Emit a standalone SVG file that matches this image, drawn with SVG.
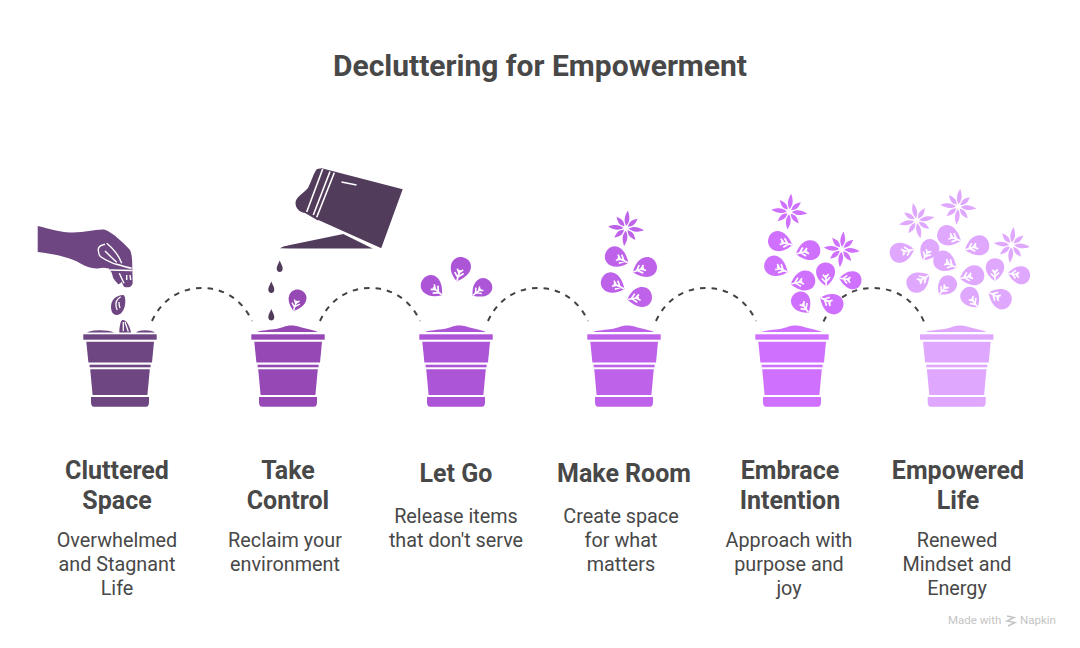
<svg xmlns="http://www.w3.org/2000/svg" width="1080" height="648" viewBox="0 0 1080 648">
<style>
text{font-family:Roboto,"Liberation Sans",sans-serif;text-anchor:middle;fill:#484848}
.title{font-size:30px;font-weight:700}
.h{font-size:25px;font-weight:700}
.d{font-size:19.800px;font-weight:400}
.foot{font-size:11.500px;fill:#c4c4c4;text-anchor:start}
.conn{fill:none;stroke:#434343;stroke-width:2;stroke-dasharray:5.500 6}
.vein{fill:none;stroke:#fff;stroke-width:1.700;stroke-linecap:butt}
.c1{fill:#6e4681}.c2{fill:#9649b5}.c3{fill:#ac55d6}.c4{fill:#be62ea}.c5{fill:#cf70ff}.c6{fill:#e0a7ff}
</style>
<defs>
<g id="pot">
<rect x="-36.700" y="334.300" width="73.400" height="5.400"/>
<path d="M-33.700 341.700H34L32 362.500H-31.600Z"/>
<rect x="-30.400" y="364.700" width="61" height="2.600"/>
<path d="M-29.800 369.300H29.800L27.400 395H-27.400Z"/>
<path d="M-29 397H29V402Q29 406.700 26 406.700H-26Q-29 406.700-29 402Z"/>
</g>
<path id="soil" d="M-31 332C-26 330-18 330-12 329C-6 328-3 325.500 3 325.500C10 325.500 14 328 20 329C24 330 28 331 30 332Z"/>
<g id="leaf">
<path d="M0 13C-5 9.500-10 4.500-10-2C-10-8-5.500-12 0-12C6-12 10-8 10-2.500C10 4 4.500 9.500 0 13Z"/>
<path class="vein" d="M0 12.500V1M0 9L-4.500 4.500M0 8L4.500 3.500M0 4.500L-3 .5M0 4L3 0"/>
</g>
<g id="flower">
<path d="M0-2.500C-3-7-3.200-11 0-18C3.200-11 3-7 0-2.500Z"/>
<path d="M0-2.500C-3-7-3-9 0-15C3-9 3-7 0-2.500Z" transform="rotate(45)"/>
<path d="M0-2.500C-3-7-3.200-11 0-18C3.200-11 3-7 0-2.500Z" transform="rotate(90)"/>
<path d="M0-2.500C-3-7-3-9 0-15C3-9 3-7 0-2.500Z" transform="rotate(135)"/>
<path d="M0-2.500C-3-7-3.200-11 0-18C3.200-11 3-7 0-2.500Z" transform="rotate(180)"/>
<path d="M0-2.500C-3-7-3-9 0-15C3-9 3-7 0-2.500Z" transform="rotate(225)"/>
<path d="M0-2.500C-3-7-3.200-11 0-18C3.200-11 3-7 0-2.500Z" transform="rotate(270)"/>
<path d="M0-2.500C-3-7-3-9 0-15C3-9 3-7 0-2.500Z" transform="rotate(315)"/>
</g>
<path id="drop" d="M0-6C1.500-2 3-.5 3 2.200C3 4.200 1.500 5.500 0 5.500C-1.500 5.500-3 4.200-3 2.200C-3-.5-1.500-2 0-6Z"/>
</defs>

<text class="title" x="540" y="75.500">Decluttering for Empowerment</text>

<g id="connectors">
<path class="conn" d="M152 321C162 299 181 288 202 288C223 288 242 299 252 321"/>
<path class="conn" d="M320 321C330 299 349 288 370 288C391 288 410 299 420 321"/>
<path class="conn" d="M488 321C498 299 517 288 538 288C559 288 578 299 588 321"/>
<path class="conn" d="M656 321C666 299 685 288 706 288C727 288 746 299 756 321"/>
<path class="conn" d="M823.500 321.500L826.500 315.500"/>
<path class="conn" d="M842 297.500C850 291.500 861 288 873 288C895 288 914 299 924 321.700"/>
</g>

<g id="node-cluttered-space">
<use href="#pot" x="120" class="c1"/>
<path class="c1" d="M87 332.500C92 329.500 108 329.500 114 332.500ZM136 332.500C139 329.500 151 329.500 155 332.500Z"/>
<path class="c1" d="M119.300 332.500C119.300 327 120.500 320 122.700 320C127 320 130 327 131 332.500Z"/>
<path d="M123.300 322V331M125 322L128.300 331.500" fill="none" stroke="#fff" stroke-width="1.300"/>
<path class="c1" d="M111 306.700C111 300 116 295 123.300 295C125.500 296 125.500 301 125 305C124 311 120.500 315 116.700 315C112.500 315 111 311 111 306.700Z"/>
<path d="M120.700 296.700C117 299 115.500 303 116 306C116.300 308 116.700 309 117.300 310M119 302C119 304 119.500 307 120 308" fill="none" stroke="#fff" stroke-width="1.300"/>
<path class="c1" d="M37.700 226C50 229 60 232 70 232.500C85 233 95 229 105 229.700C112 232 124 243 130 250C132.300 255 132.300 262 132.300 268.300L132.700 283.300C132 286 130 287.500 128.300 287.300C126 287.300 124.500 287 124 286.700C123 285 122 283 121.700 281.700C120.500 283 119.500 284.300 118.300 284.300C116 282 114.500 280 113.300 278.300L111.700 272.700L109 268.500L103.300 267.700C99 268.500 96 268.500 93.300 268.300C87 267 83 265 80 263.300C72 258 55 254 37.700 252Z"/>
<path d="M105 244.300C100 245.500 98 248 98.300 250C98.500 253 99 255.500 100.700 256.700C105 260 109 261.500 113.300 263.300C119 265 125 267 131.700 268.300M106.700 243.300C110 246 113 249 115 251.700C118 255 120 259 121.700 263.300M105 251C109 255 113 259 116.700 262.300M110 270L132 270.500M119.300 273.300L124 283.300M126.700 275V280M130 275L130.700 280" fill="none" stroke="#fff" stroke-width="1.400"/>
<text class="h" x="117" y="479">Cluttered</text>
<text class="h" x="117" y="509">Space</text>
<text class="d" x="117" y="547">Overwhelmed</text>
<text class="d" x="117" y="571">and Stagnant</text>
<text class="d" x="117" y="595">Life</text>
</g>

<g id="node-take-control">
<use href="#pot" x="288" class="c2"/>
<use href="#soil" x="288" class="c2"/>
<path fill="#523c5b" d="M321.700 168.300L402.700 189.300L381 248.700L318.300 220.700L305 213C299 212 295.500 208 295.500 203C295.500 197 303 194 308 188C311 182 314 172 317 169Z"/>
<path fill="#523c5b" d="M280 248.300C282 246.500 286 246 290 245L343.300 234L370 247.300L373 248.500L290 248.500Z"/>
<path d="M322.700 169L306.700 212M330 171.500L313.300 215M334.300 172.700L316.700 217.300M341.500 182L356.500 185M318 220.700L381 249" fill="none" stroke="#fff" stroke-width="1.600"/>
<use href="#drop" x="279.700" y="266.500" fill="#523c5b"/>
<use href="#drop" x="271.300" y="287.500" fill="#523c5b"/>
<use href="#drop" x="271.300" y="315" fill="#523c5b"/>
<use href="#leaf" transform="translate(297 300) rotate(18) scale(.88)" class="c2"/>
<text class="h" x="288" y="479">Take</text>
<text class="h" x="288" y="509">Control</text>
<text class="d" x="285" y="547">Reclaim your</text>
<text class="d" x="285" y="571">environment</text>
</g>

<g id="node-let-go">
<use href="#pot" x="456" class="c3"/>
<use href="#soil" x="456" class="c3"/>
<use href="#leaf" transform="translate(432.300 286.700) rotate(-48.500)" class="c3"/>
<use href="#leaf" transform="translate(460.300 269) rotate(16)" class="c3"/>
<use href="#leaf" transform="translate(481.700 288.300) rotate(51) scale(.9)" class="c3"/>
<text class="h" x="456" y="482">Let Go</text>
<text class="d" x="456" y="523">Release items</text>
<text class="d" x="456" y="547">that don't serve</text>
</g>

<g id="node-make-room">
<use href="#pot" x="624" class="c4"/>
<use href="#soil" x="624" class="c4"/>
<use href="#flower" transform="translate(626 228.300) rotate(6)" class="c4"/>
<use href="#leaf" transform="translate(616.700 257.300) rotate(-64.500)" class="c4"/>
<use href="#leaf" transform="translate(645 267.700) rotate(69.500)" class="c4"/>
<use href="#leaf" transform="translate(612.700 283.300) rotate(-64.500)" class="c4"/>
<use href="#leaf" transform="translate(640 297.300) rotate(80)" class="c4"/>
<text class="h" x="624" y="482">Make Room</text>
<text class="d" x="621" y="523">Create space</text>
<text class="d" x="621" y="547">for what</text>
<text class="d" x="621" y="571">matters</text>
</g>

<g id="node-embrace-intention">
<use href="#pot" x="792" class="c5"/>
<use href="#soil" x="792" class="c5"/>
<use href="#flower" transform="translate(789.300 211.700) rotate(6)" class="c5"/>
<use href="#flower" transform="translate(841.700 249.300) rotate(6)" class="c5"/>
<use href="#leaf" transform="translate(780 241.700) rotate(-75)" class="c5"/>
<use href="#leaf" transform="translate(808.300 250.700) rotate(75)" class="c5"/>
<use href="#leaf" transform="translate(776 266.700) rotate(-64.500)" class="c5"/>
<use href="#leaf" transform="translate(803.300 281) rotate(76)" class="c5"/>
<use href="#leaf" transform="translate(825.700 274) rotate(-3) scale(.95)" class="c5"/>
<use href="#leaf" transform="translate(850.700 280) rotate(98.500) scale(.9)" class="c5"/>
<use href="#leaf" transform="translate(801.700 302.700) rotate(-34.500) scale(.95)" class="c5"/>
<use href="#leaf" transform="translate(831.700 303.300) rotate(117)" class="c5"/>
<text class="h" x="790" y="479">Embrace</text>
<text class="h" x="790" y="509">Intention</text>
<text class="d" x="789" y="547">Approach with</text>
<text class="d" x="789" y="571">purpose and</text>
<text class="d" x="789" y="595">joy</text>
</g>

<g id="node-empowered-life">
<use href="#pot" x="956.700" class="c6"/>
<use href="#soil" x="956.700" class="c6"/>
<use href="#flower" transform="translate(916.700 220.700) rotate(-12)" class="c6"/>
<use href="#flower" transform="translate(958.300 206.700) rotate(6)" class="c6"/>
<use href="#flower" transform="translate(1011.700 245) rotate(6)" class="c6"/>
<use href="#leaf" transform="translate(901.700 252.300) rotate(-104)" class="c6"/>
<use href="#leaf" transform="translate(929 250) rotate(30) scale(.92)" class="c6"/>
<use href="#leaf" transform="translate(949 236) rotate(-68)" class="c6"/>
<use href="#leaf" transform="translate(977.300 246) rotate(72)" class="c6"/>
<use href="#leaf" transform="translate(945 261.700) rotate(-62)" class="c6"/>
<use href="#leaf" transform="translate(995 269.300) rotate(0) scale(.92)" class="c6"/>
<use href="#leaf" transform="translate(1019.300 275) rotate(98) scale(.9)" class="c6"/>
<use href="#leaf" transform="translate(972.300 275.700) rotate(77)" class="c6"/>
<use href="#leaf" transform="translate(918.300 281.700) rotate(-121)" class="c6"/>
<use href="#leaf" transform="translate(946.700 285.700) rotate(41) scale(.9)" class="c6"/>
<use href="#leaf" transform="translate(970.700 297.700) rotate(-36) scale(.92)" class="c6"/>
<use href="#leaf" transform="translate(1000 298.300) rotate(117.600)" class="c6"/>
<text class="h" x="958" y="479">Empowered</text>
<text class="h" x="958" y="509">Life</text>
<text class="d" x="957" y="547">Renewed</text>
<text class="d" x="957" y="571">Mindset and</text>
<text class="d" x="957" y="595">Energy</text>
</g>

<g id="footer">
<text class="foot" x="948" y="624">Made with</text>
<path d="M1007 616L1014 617.500L1007 621L1015 622.500L1008 626" fill="none" stroke="#c4c4c4" stroke-width="1.500"/>
<text class="foot" x="1020" y="624">Napkin</text>
</g>
</svg>
